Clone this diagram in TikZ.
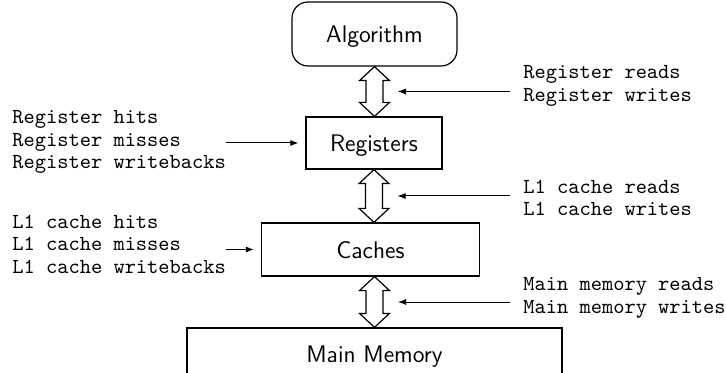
\documentclass[tikz,border=0pt]{standalone}
\usetikzlibrary{calc,arrows.meta}
\begin{document}
% Two-headed hollow arrow between two anchors, centred on the x of the first one
\newcommand\bidir[2]{%
  \draw[flow] let \p1=#1, \p2=#2 in
    (\x1,\y1) -- ({\x1+7.5pt},{\y1-7pt}) -- ({\x1+4.25pt},{\y1-7pt})
    -- ({\x1+4.25pt},{\y2+7pt}) -- ({\x1+7.5pt},{\y2+7pt}) -- (\x1,\y2)
    -- ({\x1-7.5pt},{\y2+7pt}) -- ({\x1-4.25pt},{\y2+7pt})
    -- ({\x1-4.25pt},{\y1-7pt}) -- ({\x1-7.5pt},{\y1-7pt}) -- cycle;}
\begin{tikzpicture}[x=0.5pt,y=-0.5pt,
  box/.style={draw,line width=0.6pt,font=\sffamily\fontsize{12}{14}\selectfont,
    inner sep=0pt,text height=8.6pt,text depth=0pt},
  note/.style={font=\ttfamily\fontsize{10.7}{11.25}\selectfont,align=left,inner sep=0pt,anchor=west},
  feed/.style={line width=0.5pt,-{Latex[length=4pt,width=3pt]}},
  flow/.style={draw,line width=0.6pt,fill=white}]
\useasboundingbox (0,0) rectangle (726,373);

% memory hierarchy levels
\node[box,rounded corners=8pt,minimum width=82.5pt,minimum height=32pt] (alg) at (374.5,34) {Algorithm};
\node[box,minimum width=68pt,minimum height=26pt] (reg) at (374,143) {Registers};
\node[box,minimum width=109pt,minimum height=26.5pt] (cache) at (370.5,249.5) {Caches};
\node[box,minimum width=187.5pt,minimum height=26pt] (mem) at (374.5,354) {Main Memory};

% data movement between levels
\bidir{(alg.south)}{(reg.north)}
\bidir{(reg.south)}{(reg.south |- cache.north)}
\bidir{(mem.north |- cache.south)}{(mem.north)}

\coordinate (m1) at ($(alg.south)!0.5!(reg.north)$);
\coordinate (m2) at ($(reg.south)!0.5!(reg.south |- cache.north)$);
\coordinate (m3) at ($(mem.north |- cache.south)!0.5!(mem.north)$);

% counters
\node[note] (rrw) at (523,86) {Register reads\\Register writes};
\node[note] (lrw) at (523,198) {L1 cache reads\\L1 cache writes};
\node[note] (mrw) at (523,298) {Main memory reads\\Main memory writes};
\node[note] (rhm) at (12,142) {Register hits\\Register misses\\Register writebacks};
\node[note] (lhm) at (12,244) {L1 cache hits\\L1 cache misses\\L1 cache writebacks};

\draw[feed] ($(rrw.west |- m1)+(-13,0)$) -- ($(m1)+(23.5,0)$);
\draw[feed] ($(lrw.west |- m2)+(-13,0)$) -- ($(m2)+(23.5,0)$);
\draw[feed] ($(mrw.west |- m3)+(-13,0)$) -- ($(m3)+(23.5,0)$);
\draw[feed] (rhm.east |- reg.west) -- ($(reg.west)+(-7,0)$);
\draw[feed] (lhm.east |- cache.west) -- ($(cache.west)+(-7,0)$);
\end{tikzpicture}
\end{document}
